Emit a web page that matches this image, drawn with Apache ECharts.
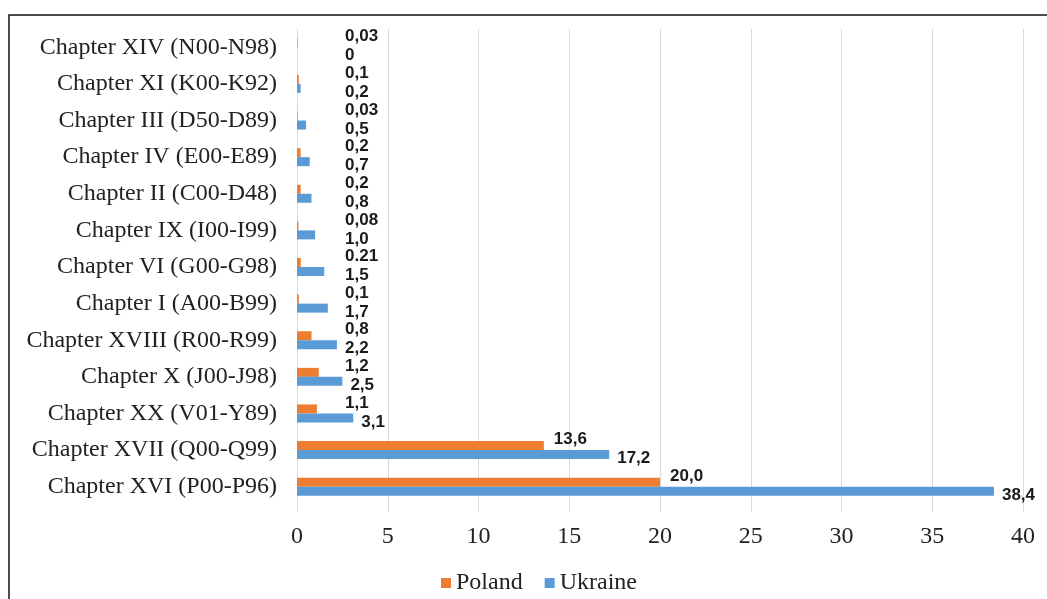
<!DOCTYPE html>
<html><head><meta charset="utf-8">
<script src="https://cdn.jsdelivr.net/npm/echarts@6/dist/echarts.min.js"></script>
<style>html,body{margin:0;padding:0;background:#fff}#c{width:1047px;height:599px}</style>
</head><body><div id="c"></div>
<script>
const categories = ["Chapter XIV (N00-N98)","Chapter XI (K00-K92)","Chapter III (D50-D89)","Chapter IV (E00-E89)","Chapter II (C00-D48)","Chapter IX (I00-I99)","Chapter VI (G00-G98)","Chapter I (A00-B99)","Chapter XVIII (R00-R99)","Chapter X (J00-J98)","Chapter XX (V01-Y89)","Chapter XVII (Q00-Q99)","Chapter XVI (P00-P96)"];
const poland = [0.03,0.1,0.03,0.2,0.2,0.08,0.21,0.1,0.8,1.2,1.1,13.6,20.0];
const ukraine = [0,0.2,0.5,0.7,0.8,1.0,1.5,1.7,2.2,2.5,3.1,17.2,38.4];
const polandLabels = ["0,03","0,1","0,03","0,2","0,2","0,08","0.21","0,1","0,8","1,2","1,1","13,6","20,0"];
const ukraineLabels = ["0","0,2","0,5","0,7","0,8","1,0","1,5","1,7","2,2","2,5","3,1","17,2","38,4"];
const xTicks = [0,5,10,15,20,25,30,35,40];

const chart = echarts.init(document.getElementById('c'));
const pxPerUnit = (1047-297-24)/40;
function mk(vals, labels, dy, dist){
  return vals.map((v,i)=>({value:v, label:{formatter:labels[i], offset:[Math.max(0, 48 - v*pxPerUnit - dist), dy]}}));
}
const labelBase = {show:true, position:'right', fontFamily:'Liberation Sans, Arial', fontWeight:'bold', fontSize:17, color:'#1a1a1a'};
const serif = 'Liberation Serif, Times New Roman';
chart.setOption({
  animation:false,
  graphic:[{type:'rect', shape:{x:9,y:15,width:1200,height:800}, style:{fill:'none', stroke:'#111', lineWidth:1.5}, silent:true}],
  grid:{left:297, right:24, top:29, bottom:94, containLabel:false},
  legend:{data:['Poland','Ukraine'], left:436, top:566, itemWidth:10, itemHeight:10, itemGap:22, icon:'rect',
    textStyle:{fontFamily:serif, fontSize:24, color:'#222'}},
  xAxis:{type:'value', min:0, max:40, interval:5,
    axisLine:{show:false}, axisTick:{show:true, length:7, lineStyle:{color:'#d9d9d9'}},
    splitLine:{show:true, lineStyle:{color:'#d9d9d9', width:1}},
    axisLabel:{margin:20, fontFamily:serif, fontSize:24, color:'#222',
      formatter:v=>xTicks.includes(v)?String(v):''}},
  yAxis:{type:'category', data:categories, inverse:true,
    axisLine:{show:false}, axisTick:{show:false},
    axisLabel:{margin:20, fontFamily:serif, fontSize:24, color:'#222'}},
  series:[
    {name:'Poland', type:'bar', data:mk(poland, polandLabels, -6, 10), itemStyle:{color:'#ED7D31'},
      barWidth:9, barGap:'0%', label:Object.assign({distance:10}, labelBase)},
    {name:'Ukraine', type:'bar', data:mk(ukraine, ukraineLabels, 4, 8), itemStyle:{color:'#5B9BD5'},
      barWidth:9, barGap:'0%', label:Object.assign({distance:8}, labelBase)}
  ]
});
</script></body></html>
